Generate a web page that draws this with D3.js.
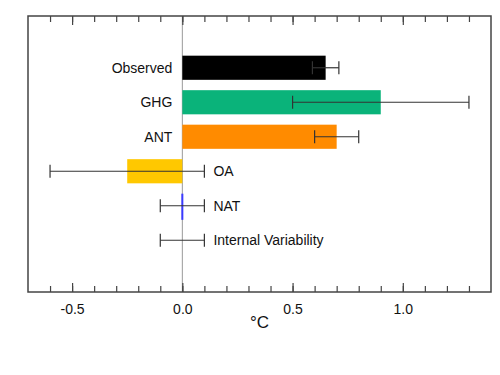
<!DOCTYPE html>
<html>
<head>
<meta charset="utf-8">
<script src="https://cdn.jsdelivr.net/npm/d3@7"></script>
<style>
  body { margin: 0; background: #fff; }
  text { font-family: "Liberation Sans", Arial, sans-serif; }
</style>
</head>
<body>
<svg id="chart" width="500" height="375"></svg>
<script>
// rows top to bottom
var labels = ["Observed", "GHG", "ANT", "OA", "NAT", "Internal Variability"];
var values = [0.65, 0.9, 0.7, -0.25, 0.0, null];
var errLow = [0.59, 0.5, 0.6, -0.6, -0.1, -0.1];
var errHigh = [0.71, 1.3, 0.8, 0.1, 0.1, 0.1];
var colors = ["#000000", "#0ab37a", "#ff8b00", "#ffc800", "#3a3aff", "none"];
var majorTicks = [-0.5, 0.0, 0.5, 1.0];

var svg = d3.select("#chart");
var pLeft = 28, pRight = 491, pTop = 16, pBottom = 292;
var step = (pBottom - pTop) / 8;

var x = d3.scaleLinear().domain([-0.7, 1.4]).range([pLeft, pRight]);
var y = d3.scaleBand().domain(labels)
  .range([pTop + step, pBottom - step])
  .paddingInner(0.3).paddingOuter(0.15);

// minor ticks every 0.1
var minorTicks = d3.range(-6, 14).map(function(d) { return d / 10; });

var g = svg.append("g");

// zero line
g.append("line")
  .attr("x1", x(0)).attr("x2", x(0))
  .attr("y1", pTop).attr("y2", pBottom)
  .attr("stroke", "#999").attr("stroke-width", 1);

// bars (tiny values drawn as a 2px sliver centred on the value)
g.selectAll("rect.bar").data(labels).enter()
  .append("rect")
  .attr("class", "bar")
  .filter(function(d, i) { return values[i] != null; })
  .attr("x", function(d, i) {
    var w = Math.abs(x(values[i]) - x(0));
    return w < 2 ? x(values[i]) - 1 : x(Math.min(0, values[i]));
  })
  .attr("y", function(d) { return y(d); })
  .attr("width", function(d, i) { return Math.max(2, Math.abs(x(values[i]) - x(0))); })
  .attr("height", function(d, i) { return i == 4 ? y.bandwidth() + 2 : y.bandwidth(); })
  .attr("fill", function(d, i) { return colors[i]; });

// error bars
var cap = 6.5;
var eb = g.selectAll("g.err").data(labels).enter().append("g").attr("class", "err")
  .attr("stroke", "#333").attr("stroke-width", 1.2);
eb.append("line")
  .attr("x1", function(d, i) { return x(errLow[i]); })
  .attr("x2", function(d, i) { return x(errHigh[i]); })
  .attr("y1", function(d) { return y(d) + y.bandwidth() / 2; })
  .attr("y2", function(d) { return y(d) + y.bandwidth() / 2; });
eb.append("line")
  .attr("x1", function(d, i) { return x(errLow[i]); })
  .attr("x2", function(d, i) { return x(errLow[i]); })
  .attr("y1", function(d) { return y(d) + y.bandwidth() / 2 - cap; })
  .attr("y2", function(d) { return y(d) + y.bandwidth() / 2 + cap; });
eb.append("line")
  .attr("x1", function(d, i) { return x(errHigh[i]); })
  .attr("x2", function(d, i) { return x(errHigh[i]); })
  .attr("y1", function(d) { return y(d) + y.bandwidth() / 2 - cap; })
  .attr("y2", function(d) { return y(d) + y.bandwidth() / 2 + cap; });

// row labels
g.selectAll("text.lab").data(labels).enter()
  .append("text")
  .attr("class", "lab")
  .attr("x", function(d, i) { return values[i] > 0.05 ? x(0) - 10 : x(errHigh[i]) + 9; })
  .attr("y", function(d) { return y(d) + y.bandwidth() / 2; })
  .attr("dy", "0.35em")
  .attr("text-anchor", function(d, i) { return values[i] > 0.05 ? "end" : "start"; })
  .attr("font-size", 14)
  .attr("fill", "#111")
  .text(function(d) { return d; });

// frame
svg.append("rect")
  .attr("x", pLeft).attr("y", pTop)
  .attr("width", pRight - pLeft).attr("height", pBottom - pTop)
  .attr("fill", "none").attr("stroke", "#444").attr("stroke-width", 1.5);

// inward ticks, top and bottom
var axB = d3.axisTop(x).tickValues(minorTicks).tickSize(6).tickFormat("");
var axT = d3.axisBottom(x).tickValues(minorTicks).tickSize(6).tickFormat("");
var axBM = d3.axisTop(x).tickValues(majorTicks).tickSize(9).tickFormat("");
var axTM = d3.axisBottom(x).tickValues(majorTicks).tickSize(9).tickFormat("");
[[axB, pBottom], [axBM, pBottom], [axT, pTop], [axTM, pTop]].forEach(function(a) {
  var ag = svg.append("g").attr("transform", "translate(0," + a[1] + ")").call(a[0]);
  ag.select(".domain").remove();
  ag.selectAll("line").attr("stroke", "#444").attr("stroke-width", 1.2);
});

// tick labels
var fmt = d3.format(".1f");
var axL = svg.append("g").attr("transform", "translate(0," + pBottom + ")")
  .call(d3.axisBottom(x).tickValues(majorTicks).tickSize(0).tickPadding(12)
    .tickFormat(function(d) { return fmt(d).replace("\u2212", "-"); }));
axL.select(".domain").remove();
axL.selectAll("text").attr("font-size", 14).attr("fill", "#111")
  .attr("font-family", "Liberation Sans, Arial, sans-serif");

// axis title
svg.append("text")
  .attr("x", (pLeft + pRight) / 2)
  .attr("y", 328)
  .attr("text-anchor", "middle")
  .attr("font-size", 17)
  .attr("fill", "#111")
  .text("°C");
</script>
</body>
</html>
